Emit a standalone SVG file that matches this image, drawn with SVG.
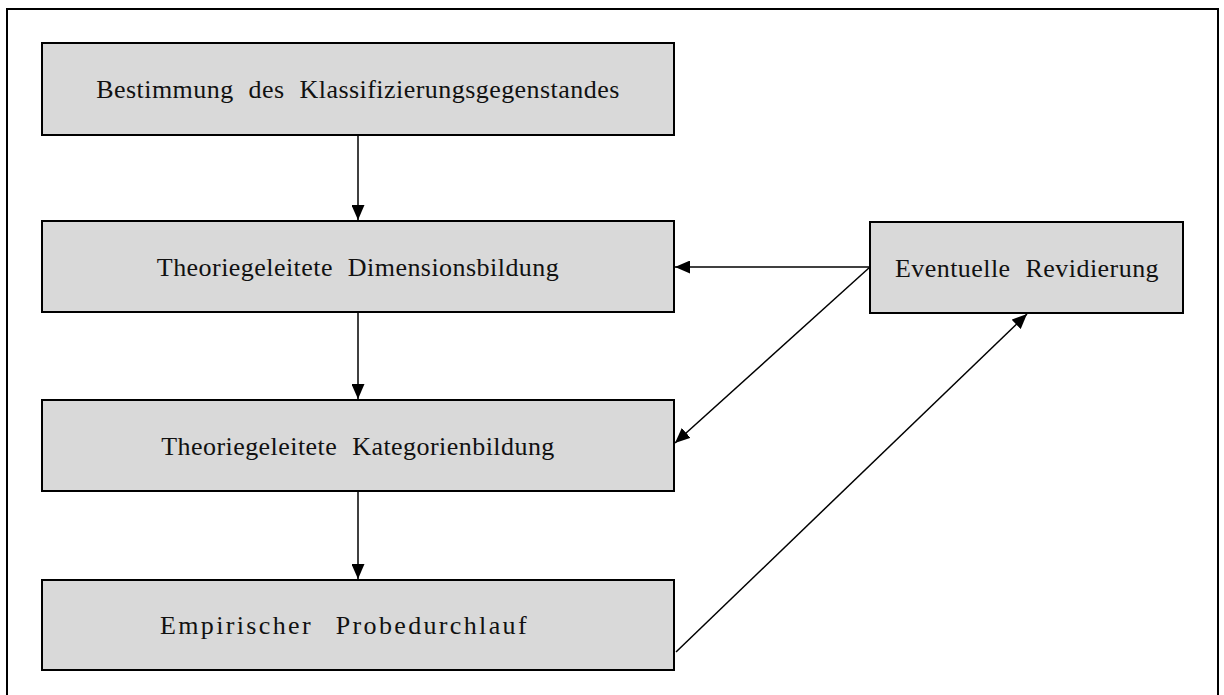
<svg xmlns="http://www.w3.org/2000/svg" width="1224" height="695" viewBox="0 0 1224 695">
<style>
.box{fill:#d9d9d9;stroke:#000;stroke-width:2}
.lbl{font-family:"Liberation Serif","Times New Roman",serif;font-size:26px;fill:#111;text-anchor:middle;word-spacing:8px;letter-spacing:0.45px}
.con{stroke:#000;stroke-width:1.5;fill:none}
</style>
<defs>
<marker id="ah" viewBox="0 0 10 10" refX="10" refY="5" markerWidth="15" markerHeight="13" markerUnits="userSpaceOnUse" orient="auto" preserveAspectRatio="none">
<path d="M0,0 L10,5 L0,10 Z" fill="#000"/>
</marker>
</defs>
<rect x="0" y="0" width="1224" height="695" fill="#fff"/>
<rect x="7" y="9" width="1211" height="700" fill="none" stroke="#000" stroke-width="2"/>
<g id="n1"><rect class="box" x="42" y="43" width="632" height="92"/><text class="lbl" x="358" y="98">Bestimmung des Klassifizierungsgegenstandes</text></g>
<g id="n2"><rect class="box" x="42" y="221" width="632" height="91"/><text class="lbl" x="358" y="276">Theoriegeleitete Dimensionsbildung</text></g>
<g id="n3"><rect class="box" x="42" y="400" width="632" height="91"/><text class="lbl" x="358" y="455">Theoriegeleitete Kategorienbildung</text></g>
<g id="n4"><rect class="box" x="42" y="580" width="632" height="90"/><text class="lbl" x="160" y="634" style="text-anchor:start;word-spacing:14px" textLength="367" lengthAdjust="spacing">Empirischer Probedurchlauf</text></g>
<g id="n5"><rect class="box" x="870" y="222" width="313" height="91"/><text class="lbl" x="1027" y="277">Eventuelle Revidierung</text></g>
<g id="connectors">
<line class="con" x1="358" y1="136" x2="358" y2="220" marker-end="url(#ah)"/>
<line class="con" x1="358" y1="313" x2="358" y2="399" marker-end="url(#ah)"/>
<line class="con" x1="358" y1="492" x2="358" y2="579" marker-end="url(#ah)"/>
<line class="con" x1="870" y1="267" x2="675" y2="267" marker-end="url(#ah)"/>
<line class="con" x1="870" y1="267" x2="675" y2="443" marker-end="url(#ah)"/>
<line class="con" x1="676" y1="652" x2="1027" y2="314" marker-end="url(#ah)"/>
</g>
</svg>
